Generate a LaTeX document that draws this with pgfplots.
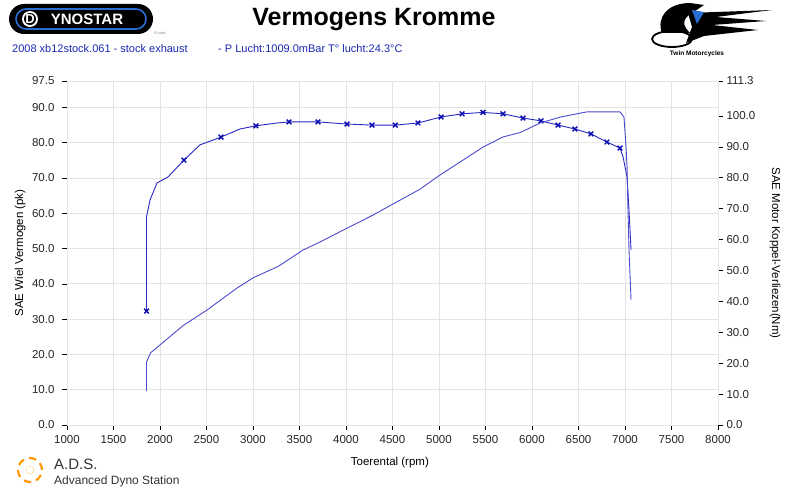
\documentclass[border=0pt]{standalone}
\usepackage{pgfplots}
\pgfplotsset{compat=1.18}
\usepackage{fontspec}
\setmainfont{Liberation Sans}
\definecolor{curve}{RGB}{40,40,195}
\definecolor{curveb}{RGB}{75,75,205}
\definecolor{mk}{RGB}{10,10,175}
\definecolor{gridc}{RGB}{228,228,228}
\definecolor{subblue}{RGB}{25,40,180}
\definecolor{dsblue}{RGB}{40,110,210}

\pgfplotstableread{
rpm pk
1855 32.3
1855 59.0
1893 63.8
1968 68.6
2086 70.3
2258 75.1
2430 79.4
2656 81.6
2860 83.9
3032 84.8
3258 85.6
3387 85.9
3699 85.9
4011 85.3
4280 85.0
4530 85.0
4774 85.6
5022 87.3
5248 88.2
5473 88.6
5688 88.2
5903 87.0
6097 86.2
6280 85.0
6462 83.9
6634 82.5
6806 80.2
6946 78.5
6979 76.0
7022 70.3
7043 60.9
7065 49.6
}\powertable

\pgfplotstableread{
rpm pk
1855 32.3
2258 75.1
2656 81.6
3032 84.8
3387 85.9
3699 85.9
4011 85.3
4280 85.0
4530 85.0
4774 85.6
5022 87.3
5248 88.2
5473 88.6
5688 88.2
5903 87.0
6097 86.2
6280 85.0
6462 83.9
6634 82.5
6806 80.2
6946 78.5
}\markertable

\pgfplotstableread{
rpm nm
1855 11.0
1855 20.4
1900 23.4
2000 25.9
2250 32.2
2505 37.2
2828 44.3
3000 47.6
3270 51.3
3538 56.6
3720 59.2
4011 63.7
4290 67.9
4505 71.5
4796 76.3
5011 80.9
5258 85.7
5473 89.9
5688 93.2
5871 94.6
6086 97.7
6301 99.6
6516 100.9
6591 101.3
6946 101.3
6989 99.6
7011 90.0
7022 83.5
7032 69.6
7043 56.6
7065 40.4
}\torquetable

\begin{document}
\begin{tikzpicture}[x=1pt,y=1pt]
\useasboundingbox (0,0) rectangle (800,491);
\fill[white] (0,0) rectangle (800,491);

% left axis (power)
\begin{axis}[
  at={(67pt,66pt)}, anchor=south west,
  width=651pt, height=344pt, scale only axis,
  xmin=1000, xmax=8000, ymin=0, ymax=97.5,
  xtick={1000,1500,2000,2500,3000,3500,4000,4500,5000,5500,6000,6500,7000,7500,8000},
  ytick={0,10,20,30,40,50,60,70,80,90,97.5},
  grid=major, major grid style={gridc, line width=0.9pt},
  axis line style={gridc, line width=0.9pt},
  tick style={black, line width=0.6pt}, major tick length=5pt, tick align=outside,
  xtick pos=bottom, ytick pos=left,
  /pgf/number format/assume math mode=true,
  tick label style={font=\fontsize{11.5}{13}\selectfont, text=black!85},
  xticklabel style={/pgf/number format/1000 sep={}, yshift=-2pt},
  yticklabel style={/pgf/number format/.cd, fixed, fixed zerofill, precision=1, /tikz/xshift=-4pt},
  xlabel={Toerental (rpm)},
  ylabel={SAE Wiel Vermogen (pk)},
  xlabel style={at={(axis description cs:0.496,-0.110)}, anchor=center, font=\fontsize{11.5}{13}\selectfont},
  ylabel style={at={(axis description cs:-0.072,0.5)}, anchor=center, font=\fontsize{11.5}{13}\selectfont},
]
\addplot[curve, line width=0.9pt, no marks] table[x=rpm, y=pk] {\powertable};
\addplot[mk, only marks, mark=x, mark size=3.3pt, mark options={line width=1.4pt}] table[x=rpm, y=pk] {\markertable};
\end{axis}

% right axis (torque losses)
\begin{axis}[
  at={(67pt,66pt)}, anchor=south west,
  width=651pt, height=344pt, scale only axis,
  xmin=1000, xmax=8000, ymin=0, ymax=111.3,
  axis x line=none, axis y line*=right,
  axis line style={gridc, line width=0.9pt},
  ytick={0,10,20,30,40,50,60,70,80,90,100,111.3},
  tick style={black, line width=0.6pt}, major tick length=5pt, tick align=outside,
  /pgf/number format/assume math mode=true,
  tick label style={font=\fontsize{11.5}{13}\selectfont, text=black!85},
  yticklabel style={/pgf/number format/.cd, fixed, fixed zerofill, precision=1},
  ylabel={SAE Motor Koppel-Verliezen(Nm)},
  ylabel style={at={(axis description cs:1.0876,0.5)}, anchor=center, rotate=180, font=\fontsize{11.5}{13}\selectfont},
]
\addplot[curveb, line width=0.9pt, no marks] table[x=rpm, y=nm] {\torquetable};
\end{axis}

% title and subtitle
\node[font=\fontsize{25}{28}\selectfont\bfseries] at (374,471) {Vermogens Kromme};
\node[anchor=west, text=subblue, font=\fontsize{11}{13}\selectfont, inner sep=0pt] at (12,442) {2008 xb12stock.061 - stock exhaust};
\node[anchor=west, text=subblue, font=\fontsize{11}{13}\selectfont, inner sep=0pt] at (218,442) {- P Lucht:1009.0mBar T° lucht:24.3°C};

% Dynostar logo
\fill[black] (24,457) arc (270:90:15) -- (138,487) arc (90:-90:15) -- cycle;
\draw[dsblue, line width=1.6pt] (26,462) arc (270:90:10) -- (136,482) arc (90:-90:10) -- cycle;
\fill[white] (30,472) circle (8);
\fill[black] (30,472) circle (6);
\node[text=white, font=\fontsize{13}{14}\selectfont\bfseries] at (30,472) {D};
\node[text=white, font=\fontsize{15}{16}\selectfont\bfseries] at (87,472) {YNOSTAR};
\node[text=gray, font=\fontsize{4}{5}\selectfont] at (160,458) {®.com};

% Twin Motorcycles logo
\fill[black] (662,458) .. controls (656,474) and (668,488) .. (690,488) -- (704,486)
  -- (692,478) .. controls (682,472) and (682,466) .. (690,458) -- cycle;
\fill[black] (688,478) -- (772,481) -- (716,474) -- (766,470) -- (712,466) -- (758,461) -- (704,455) -- (686,448) -- (692,464) -- cycle;
\fill[dsblue] (692,481) -- (704,479) -- (697,467) -- cycle;
\draw[black, line width=1.8pt] (672,452) ellipse (20 and 8);
\node[font=\fontsize{6.5}{7}\selectfont\bfseries] at (697,437) {Twin Motorcycles};

% A.D.S. logo
\foreach \a in {0,60,...,300}{
  \draw[orange!80!yellow, line width=2.2pt] ([shift={(\a:12)}]30,21) arc (\a:\a+35:12);
}
\draw[orange!60!yellow, line width=0.6pt, densely dotted] (30,21) circle (4);
\node[anchor=west, font=\fontsize{15}{16}\selectfont, inner sep=0pt, text=black!80] at (54,27) {A.D.S.};
\node[anchor=west, font=\fontsize{12}{13}\selectfont, inner sep=0pt, text=black!80] at (54,10) {Advanced Dyno Station};
\end{tikzpicture}
\end{document}
